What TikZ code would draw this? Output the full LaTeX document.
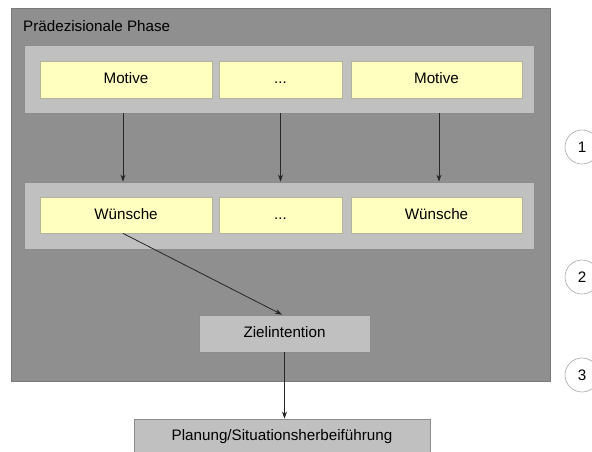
\documentclass[tikz,border=0pt]{standalone}
\usepackage{fontspec}
\setmainfont{Liberation Sans}
\usetikzlibrary{arrows.meta}
\definecolor{phasegray}{HTML}{8F8F8F}
\definecolor{phaseedge}{HTML}{7A7A7A}
\definecolor{rowgray}{HTML}{C0C0C0}
\definecolor{rowedge}{HTML}{8C8C8C}
\definecolor{paleyellow}{HTML}{FFFFC0}
\definecolor{yellowedge}{HTML}{B4B49C}
\definecolor{circedge}{HTML}{A8A8A8}
\tikzset{
  txt/.style={font=\fontsize{15.2}{18}\selectfont, text=black},
  rowbox/.style={draw=rowedge, fill=rowgray, line width=0.8pt, inner sep=0pt},
  ybox/.style={txt, draw=yellowedge, fill=paleyellow, line width=0.8pt, inner sep=0pt,
    minimum height=37, text height=11pt, text depth=3pt},
  gbox/.style={txt, draw=rowedge, fill=rowgray, line width=0.8pt, inner sep=0pt,
    text height=11pt, text depth=3pt},
  conn/.style={draw=black!85, line width=0.8pt, -{Stealth[length=7pt,width=5pt]}},
  numcirc/.style={txt, circle, draw=circedge, fill=white, line width=0.6pt, minimum size=34, inner sep=0pt}
}
\begin{document}
\begin{tikzpicture}[x=1pt, y=-1pt]
\useasboundingbox (0,0) rectangle (592,451);
\clip (0,0) rectangle (592,451);
\fill[white] (0,0) rectangle (592,451);

% phase frame and its title
\draw[draw=phaseedge, fill=phasegray, line width=0.8pt] (11,8) rectangle (550,381);
\node[txt, anchor=base west, inner sep=0pt] (title) at (23,31) {Prädezisionale Phase};

% row of motives
\node[rowbox, minimum width=510, minimum height=68] (mrow) at (279,79) {};
\node[ybox, minimum width=172] (m1) at (126,79.5) {Motive};
\node[ybox, minimum width=123] (m2) at (280.5,79.5) {...};
\node[ybox, minimum width=171] (m3) at (436.5,79.5) {Motive};

% row of wishes
\node[rowbox, minimum width=510, minimum height=67] (wrow) at (279,215.5) {};
\node[ybox, minimum width=172, minimum height=36] (w1) at (126,215) {Wünsche};
\node[ybox, minimum width=123, minimum height=36] (w2) at (280.5,215) {...};
\node[ybox, minimum width=171, minimum height=36] (w3) at (436.5,215) {Wünsche};

% goal intention and planning
\node[gbox, minimum width=171, minimum height=37] (z) at (284.5,333.5) {Zielintention};
\node[gbox, minimum width=296, minimum height=34] (p) at (282,436) {Planung/Situationsherbeiführung};

% connectors
\draw[conn] ([xshift=-3pt]m1.center |- mrow.south) -- ([xshift=-3pt]w1.center |- wrow.north);
\draw[conn] (m2.center |- mrow.south) -- (m2.center |- wrow.north);
\draw[conn] ([xshift=2.5pt]m3.center |- mrow.south) -- ([xshift=2.5pt]w3.center |- wrow.north);
\draw[conn] ([xshift=-3pt]w1.south) -- ([xshift=-2.5pt]z.north);
\draw[conn] (z.south) -- (z.south |- p.north);

% step numbers
\node[numcirc] (n1) at (582,147) {1};
\node[numcirc] (n2) at (582,277) {2};
\node[numcirc] (n3) at (582,375) {3};
\end{tikzpicture}
\end{document}
